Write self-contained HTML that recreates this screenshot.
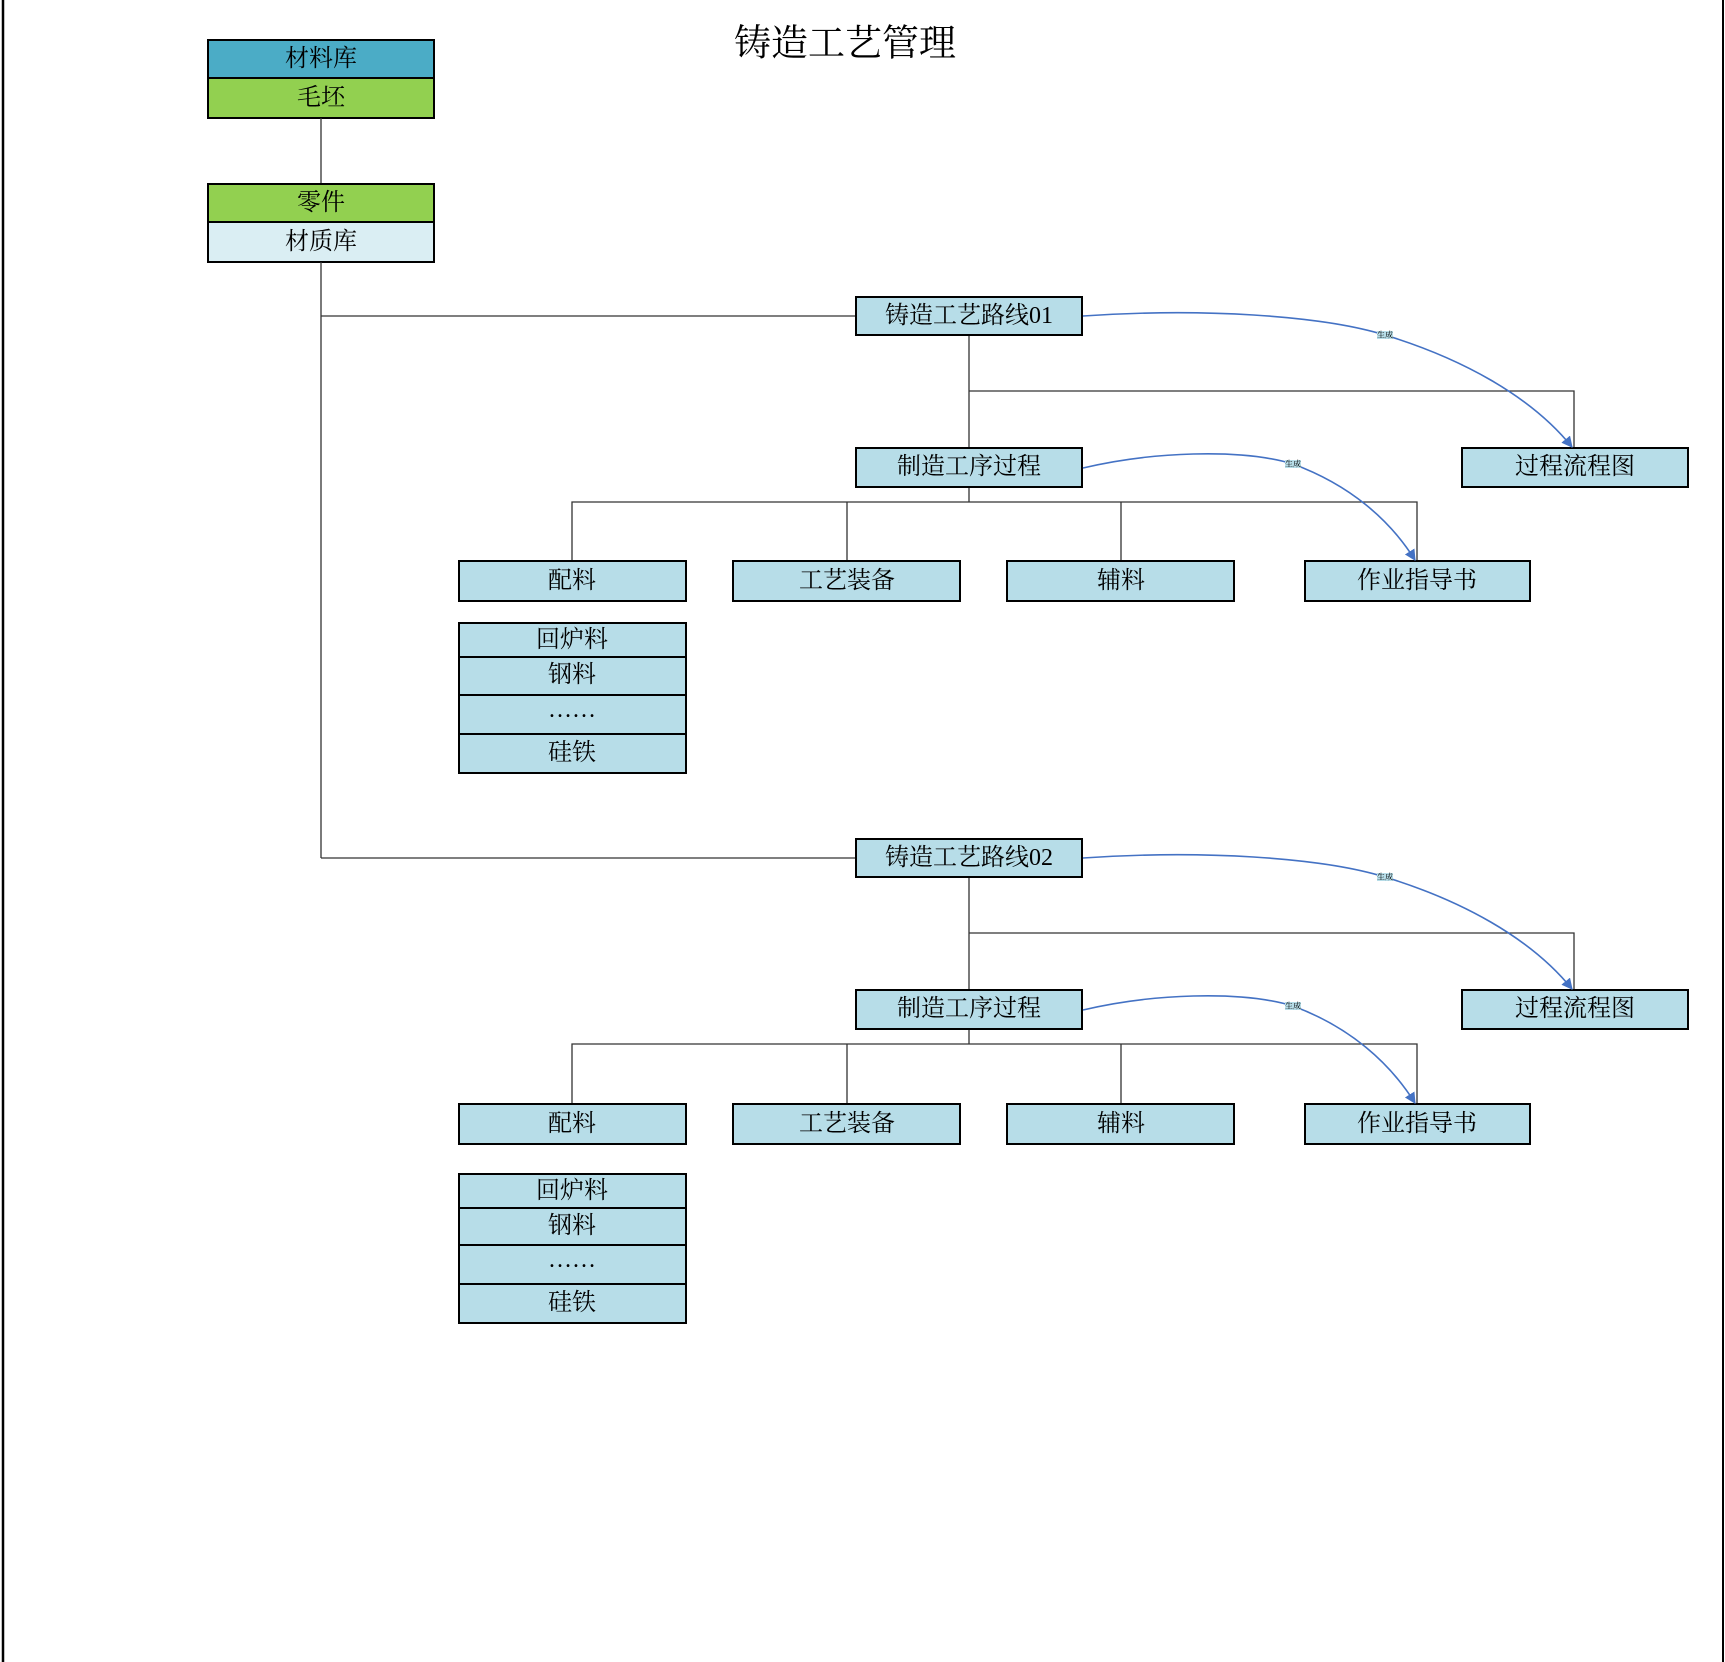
<!DOCTYPE html>
<html><head><meta charset="utf-8"><style>
html,body{margin:0;padding:0;background:#fff}
svg{display:block}
text{font-family:"Liberation Serif","Noto Serif CJK SC","Noto Sans CJK SC",serif;font-size:24px;fill:#000;text-anchor:middle;dominant-baseline:central}
.b{fill:#b7dde8;stroke:#000;stroke-width:2}
.l{stroke:#333;stroke-width:1.3;fill:none}
.c{stroke:#4472c4;stroke-width:1.6;fill:none}
.lb{font-size:8px}
</style></head><body>
<svg width="1725" height="1662" viewBox="0 0 1725 1662" xmlns="http://www.w3.org/2000/svg">
<defs><marker id="a" viewBox="0 0 10 10" refX="9" refY="5" markerWidth="7" markerHeight="7" orient="auto"><path d="M0,0 L10,5 L0,10 z" fill="#4472c4"/></marker></defs>
<line x1="3" y1="0" x2="3" y2="1662" stroke="#000" stroke-width="2.5"/>
<line x1="1723" y1="0" x2="1723" y2="1662" stroke="#000" stroke-width="2"/>
<text x="845" y="44" style="font-size:37px">铸造工艺管理</text>

<rect x="208" y="40" width="226" height="38" fill="#4bacc6" stroke="#000" stroke-width="2"/>
<text x="321" y="59">材料库</text>
<rect x="208" y="78" width="226" height="40" fill="#92d050" stroke="#000" stroke-width="2"/>
<text x="321" y="98">毛坯</text>
<line class="l" x1="321" y1="118" x2="321" y2="184"/>
<rect x="208" y="184" width="226" height="38" fill="#92d050" stroke="#000" stroke-width="2"/>
<text x="321" y="203">零件</text>
<rect x="208" y="222" width="226" height="40" fill="#daeef3" stroke="#000" stroke-width="2"/>
<text x="321" y="242">材质库</text>
<line class="l" x1="321" y1="262" x2="321" y2="858"/>
<line class="l" x1="321" y1="316" x2="856" y2="316"/>
<line class="l" x1="321" y1="858" x2="856" y2="858"/>

<g>
<line class="l" x1="969" y1="335" x2="969" y2="448"/>
<polyline class="l" points="969,391 1574,391 1574,448"/>
<polyline class="l" points="572,561 572,502 1417,502 1417,561"/>
<line class="l" x1="969" y1="487" x2="969" y2="502"/>
<line class="l" x1="847" y1="502" x2="847" y2="561"/>
<line class="l" x1="1121" y1="502" x2="1121" y2="561"/>
<rect class="b" x="856" y="297" width="226" height="38"/><text x="969" y="316">铸造工艺路线01</text>
<rect class="b" x="1462" y="448" width="226" height="39"/><text x="1575" y="467">过程流程图</text>
<rect class="b" x="856" y="448" width="226" height="39"/><text x="969" y="467">制造工序过程</text>
<rect class="b" x="459" y="561" width="227" height="40"/><text x="572" y="581">配料</text>
<rect class="b" x="733" y="561" width="227" height="40"/><text x="847" y="581">工艺装备</text>
<rect class="b" x="1007" y="561" width="227" height="40"/><text x="1121" y="581">辅料</text>
<rect class="b" x="1305" y="561" width="225" height="40"/><text x="1417" y="581">作业指导书</text>
<rect class="b" x="459" y="623" width="227" height="34"/><text x="572" y="640">回炉料</text>
<rect class="b" x="459" y="657" width="227" height="38"/><text x="572" y="675">钢料</text>
<rect class="b" x="459" y="695" width="227" height="39"/><text x="572" y="710">……</text>
<rect class="b" x="459" y="734" width="227" height="39"/><text x="572" y="753">硅铁</text>
<path class="c" marker-end="url(#a)" d="M1083,316 C1200,308 1320,315 1385,335 C1460,358 1530,395 1572,447"/>
<path class="c" marker-end="url(#a)" d="M1083,468 C1150,452 1240,448 1293,464 C1350,485 1390,520 1415,560"/>
<rect x="1377" y="331" width="16" height="8" fill="#b7dde8"/><text class="lb" x="1385" y="335">生成</text>
<rect x="1285" y="460" width="16" height="8" fill="#b7dde8"/><text class="lb" x="1293" y="464">生成</text>
</g>

<g>
<line class="l" x1="969" y1="877" x2="969" y2="990"/>
<polyline class="l" points="969,933 1574,933 1574,990"/>
<polyline class="l" points="572,1104 572,1044 1417,1044 1417,1104"/>
<line class="l" x1="969" y1="1029" x2="969" y2="1044"/>
<line class="l" x1="847" y1="1044" x2="847" y2="1104"/>
<line class="l" x1="1121" y1="1044" x2="1121" y2="1104"/>
<rect class="b" x="856" y="839" width="226" height="38"/><text x="969" y="858">铸造工艺路线02</text>
<rect class="b" x="1462" y="990" width="226" height="39"/><text x="1575" y="1009">过程流程图</text>
<rect class="b" x="856" y="990" width="226" height="39"/><text x="969" y="1009">制造工序过程</text>
<rect class="b" x="459" y="1104" width="227" height="40"/><text x="572" y="1124">配料</text>
<rect class="b" x="733" y="1104" width="227" height="40"/><text x="847" y="1124">工艺装备</text>
<rect class="b" x="1007" y="1104" width="227" height="40"/><text x="1121" y="1124">辅料</text>
<rect class="b" x="1305" y="1104" width="225" height="40"/><text x="1417" y="1124">作业指导书</text>
<rect class="b" x="459" y="1174" width="227" height="34"/><text x="572" y="1191">回炉料</text>
<rect class="b" x="459" y="1208" width="227" height="37"/><text x="572" y="1226">钢料</text>
<rect class="b" x="459" y="1245" width="227" height="39"/><text x="572" y="1260">……</text>
<rect class="b" x="459" y="1284" width="227" height="39"/><text x="572" y="1303">硅铁</text>
<path class="c" marker-end="url(#a)" d="M1083,858 C1200,850 1320,857 1385,877 C1460,900 1530,937 1572,989"/>
<path class="c" marker-end="url(#a)" d="M1083,1010 C1150,994 1240,990 1293,1006 C1350,1027 1390,1063 1415,1103"/>
<rect x="1377" y="873" width="16" height="8" fill="#b7dde8"/><text class="lb" x="1385" y="877">生成</text>
<rect x="1285" y="1002" width="16" height="8" fill="#b7dde8"/><text class="lb" x="1293" y="1006">生成</text>
</g>
</svg>
</body></html>
